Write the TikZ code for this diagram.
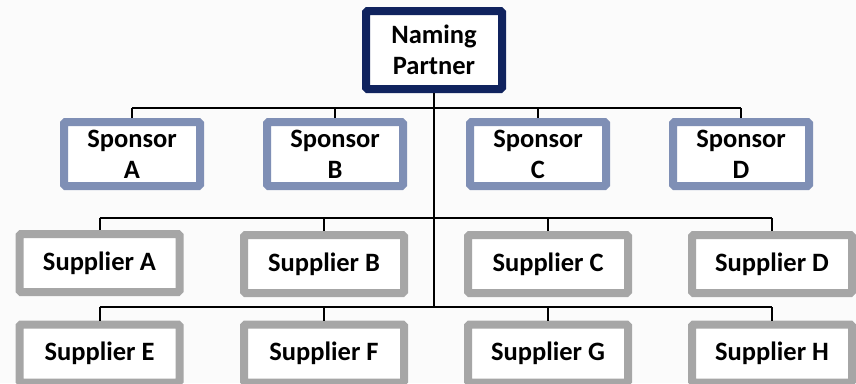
\documentclass[tikz,border=0pt]{standalone}
\usepackage{fontspec}
\setmainfont{Carlito}
\definecolor{navyborder}{HTML}{10235E}
\definecolor{sponsorborder}{HTML}{7F8FB5}
\definecolor{supplierborder}{HTML}{A6A6A6}

\begin{document}
\begin{tikzpicture}[x=1pt, y=-1pt, line width=2pt]
	\tikzstyle{box}      = [rectangle, fill=white, line width=8pt, rounded corners=1.5pt, inner sep=0pt, align=center, font=\fontsize{26.5}{31}\selectfont\bfseries]
	\tikzstyle{partner}  = [box, draw=navyborder, minimum width=136pt, minimum height=78pt]
	\tikzstyle{sponsor}  = [box, draw=sponsorborder, minimum width=136pt, minimum height=64pt]
	\tikzstyle{supplier} = [box, draw=supplierborder, minimum width=160pt, minimum height=58pt]

	\clip (0,0) rectangle (856,383);
	\fill[gray!3] (0,0) rectangle (856,383);

	\node[partner] (partner) at (434, 50) {Naming\\Partner};

	\foreach \name/\x in {A/132, B/335, C/538, D/741}
		\node[sponsor] (sp\name) at (\x, 154) {Sponsor\\\name};

	\foreach \name/\x/\y in {A/99.5/263, B/324/264, C/548/264, D/772/264, E/99.5/353.5, F/324/353.5, G/548/353.5, H/772/353.5}
		\node[supplier] (su\name) at (\x, \y) {Supplier \name};

	% bars
	\coordinate (bar1) at (434, 108);
	\coordinate (bar2) at (434, 218);
	\coordinate (bar3) at (434, 307);

	\draw (partner.south) -- (bar3);
	\draw (spA.north |- bar1) -- (spD.north |- bar1);
	\draw (suA.north |- bar2) -- (suD.north |- bar2);
	\draw (suE.north |- bar3) -- (suH.north |- bar3);

	\foreach \name in {A, B, C, D}
		\draw (sp\name.north) -- (sp\name.north |- bar1);
	\foreach \name in {A, B, C, D}
		\draw (su\name.north) -- (su\name.north |- bar2);
	\foreach \name in {E, F, G, H}
		\draw (su\name.north) -- (su\name.north |- bar3);

\end{tikzpicture}
\end{document}
